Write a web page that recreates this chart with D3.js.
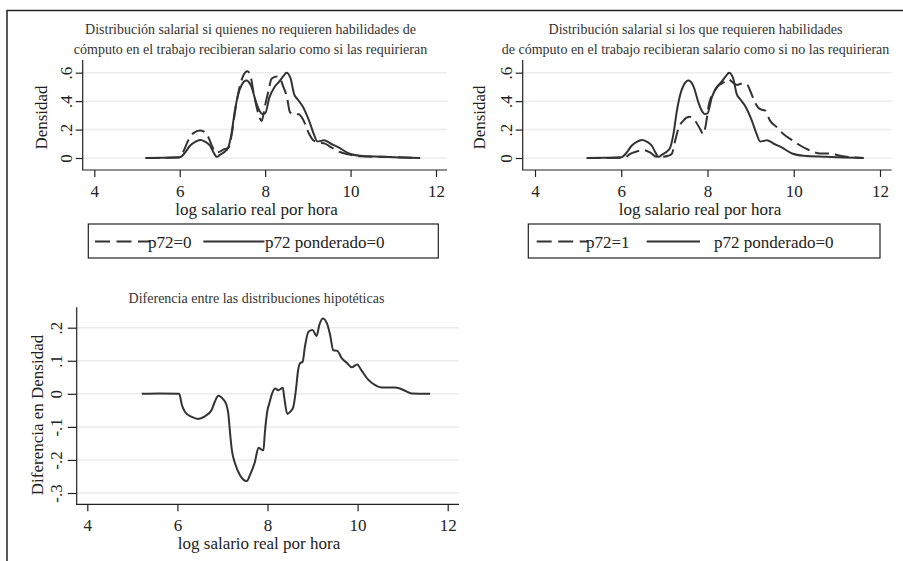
<!DOCTYPE html>
<html>
<head>
<meta charset="utf-8">
<script src="https://cdn.jsdelivr.net/npm/d3@7"></script>
<style>
  body { margin: 0; background: #fff; }
  svg { display: block; }
  text { font-family: "Liberation Serif", "Times New Roman", serif; }
</style>
</head>
<body>
<svg id="chart" width="903" height="561"></svg>
<script>
// ---- values ----
const xTicks = [4, 6, 8, 10, 12];
const densityTicks = [0, 0.2, 0.4, 0.6];
const diffTicks = [-0.3, -0.2, -0.1, 0, 0.1, 0.2];

// kernel density of log hourly real wage, p72 = 0
const p72cero = [
  [5.2,0],[5.97,0.003],[6.08,0.042],[6.2,0.124],[6.32,0.175],[6.48,0.194],[6.59,0.182],
  [6.67,0.147],[6.75,0.089],[6.83,0.042],[6.9,0.04],[7.02,0.059],[7.14,0.073],[7.22,0.171],
  [7.3,0.335],[7.41,0.51],[7.49,0.58],[7.58,0.61],[7.65,0.587],[7.72,0.475],[7.8,0.358],
  [7.88,0.276],[7.92,0.26],[7.99,0.358],[8.08,0.475],[8.15,0.557],[8.27,0.573],[8.35,0.557],
  [8.43,0.498],[8.51,0.428],[8.58,0.323],[8.66,0.307],[8.78,0.307],[8.89,0.269],[9.01,0.182],
  [9.13,0.124],[9.25,0.112],[9.4,0.101],[9.56,0.073],[9.75,0.042],[9.95,0.026],[10.22,0.012],
  [11.0,0.007],[11.63,0]
];

// kernel density, p72 = 1
const p72uno = [
  [5.2,0],[6.0,0.002],[6.09,0.004],[6.2,0.028],[6.36,0.046],[6.51,0.056],[6.67,0.039],
  [6.82,0.009],[6.94,0.009],[7.09,0.016],[7.17,0.028],[7.25,0.121],[7.32,0.203],[7.44,0.263],
  [7.59,0.29],[7.71,0.263],[7.83,0.203],[7.9,0.168],[7.97,0.25],[8.02,0.356],[8.14,0.461],
  [8.25,0.507],[8.37,0.531],[8.48,0.554],[8.56,0.538],[8.68,0.514],[8.8,0.524],[8.91,0.52],
  [8.99,0.473],[9.1,0.391],[9.22,0.343],[9.34,0.333],[9.45,0.263],[9.61,0.216],[9.76,0.168],
  [9.96,0.126],[10.15,0.088],[10.34,0.058],[10.61,0.032],[10.84,0.032],[11.08,0.016],
  [11.39,0.004],[11.62,0]
];

// reweighted density, p72 ponderado = 0
const p72ponderadoCero = [
  [5.2,0],[5.6,0.002],[6.0,0.005],[6.13,0.04],[6.24,0.086],[6.36,0.114],[6.48,0.127],
  [6.59,0.116],[6.71,0.086],[6.78,0.046],[6.87,0.008],[6.94,0.022],[7.06,0.046],[7.13,0.07],
  [7.21,0.168],[7.29,0.331],[7.37,0.448],[7.45,0.514],[7.56,0.545],[7.67,0.507],[7.79,0.39],
  [7.87,0.331],[7.93,0.31],[8.0,0.314],[8.1,0.426],[8.22,0.5],[8.33,0.537],[8.43,0.577],
  [8.5,0.6],[8.59,0.565],[8.68,0.448],[8.76,0.413],[8.87,0.367],[9.03,0.261],[9.14,0.168],
  [9.22,0.116],[9.3,0.12],[9.38,0.125],[9.53,0.102],[9.72,0.074],[9.96,0.032],[10.23,0.016],
  [10.77,0.009],[11.15,0.004],[11.62,0]
];

// difference between the two counterfactual densities
const diferencia = [
  [5.21,0],[5.6,0.001],[6.04,0],[6.1,-0.034],[6.17,-0.055],[6.32,-0.07],[6.46,-0.076],
  [6.61,-0.068],[6.76,-0.049],[6.83,-0.024],[6.91,-0.006],[6.98,-0.011],[7.09,-0.034],
  [7.13,-0.06],[7.17,-0.12],[7.21,-0.171],[7.28,-0.211],[7.39,-0.246],[7.54,-0.264],
  [7.61,-0.246],[7.72,-0.206],[7.8,-0.163],[7.87,-0.169],[7.91,-0.171],[7.94,-0.12],
  [8.0,-0.049],[8.04,-0.029],[8.09,-0.004],[8.17,0.016],[8.24,0.011],[8.34,0.018],
  [8.37,-0.009],[8.44,-0.061],[8.5,-0.055],[8.57,-0.041],[8.63,0.011],[8.68,0.072],
  [8.72,0.092],[8.78,0.097],[8.83,0.142],[8.91,0.188],[9.0,0.193],[9.09,0.175],[9.15,0.208],
  [9.23,0.228],[9.32,0.213],[9.39,0.178],[9.46,0.132],[9.55,0.13],[9.65,0.107],[9.76,0.094],
  [9.87,0.08],[9.99,0.089],[10.09,0.07],[10.24,0.042],[10.39,0.026],[10.53,0.019],
  [10.83,0.019],[10.98,0.014],[11.2,0.001],[11.61,0]
];

// ---- drawing ----
const svg = d3.select("#chart");
const INK = "#222";
const LINE = "#333";
const GRID = "#ececec";

// Stata-style number labels: ".2", "-.3", "0"
const fmtStata = v => v === 0 ? "0" : (v < 0 ? "-" : "") + String(+Math.abs(v).toFixed(1)).replace(/^0\./, ".");

// outer frame (left and top edges)
svg.append("path")
  .attr("d", "M7,561 V10.5 H903")
  .attr("fill", "none").attr("stroke", INK).attr("stroke-width", 1.5);

function panel(cfg) {
  const g = svg.append("g");
  const x = d3.scaleLinear().domain([4, 12]).range(cfg.xRange);
  const y = d3.scaleLinear().domain(cfg.yDomain).range(cfg.yRange);

  // horizontal grid
  g.append("g").selectAll("line").data(cfg.yTicks).join("line")
    .attr("x1", cfg.left).attr("x2", cfg.right)
    .attr("y1", d => y(d)).attr("y2", d => y(d))
    .attr("stroke", GRID).attr("stroke-width", 1.5);

  // axis lines
  g.append("path")
    .attr("d", `M${cfg.left},${cfg.top} V${cfg.bottom} H${cfg.right}`)
    .attr("fill", "none").attr("stroke", INK).attr("stroke-width", 1.2);

  // x axis
  const xa = g.append("g").attr("transform", `translate(0,${cfg.bottom})`)
    .call(d3.axisBottom(x).tickValues(xTicks).tickSize(7).tickPadding(7.5).tickFormat(d3.format("d")));
  xa.select(".domain").remove();
  xa.selectAll("line").attr("stroke", INK).attr("stroke-width", 1.2);
  xa.selectAll("text").attr("font-size", 17).attr("fill", INK)
    .attr("font-family", "Liberation Serif, serif");

  // y axis, labels turned vertical
  const ya = g.append("g").attr("transform", `translate(${cfg.left},0)`)
    .call(d3.axisLeft(y).tickValues(cfg.yTicks).tickSize(cfg.yTickLen).tickFormat(fmtStata));
  ya.select(".domain").remove();
  ya.selectAll("line").attr("stroke", INK).attr("stroke-width", 1.2);
  ya.selectAll("text")
    .attr("x", null).attr("dy", null).attr("y", null)
    .attr("text-anchor", "middle")
    .attr("transform", `translate(${-cfg.yLabelOff},0) rotate(-90)`)
    .attr("font-size", 17).attr("fill", INK)
    .attr("font-family", "Liberation Serif, serif");

  // axis titles
  g.append("text").attr("x", cfg.xTitleX).attr("y", cfg.bottom + 45)
    .attr("text-anchor", "middle").attr("font-size", 17).attr("fill", INK)
    .text("log salario real por hora");
  g.append("text")
    .attr("transform", `translate(${cfg.yTitleX},${cfg.yTitleY}) rotate(-90)`)
    .attr("text-anchor", "middle").attr("font-size", 17).attr("fill", INK)
    .text(cfg.yTitle);

  // panel title
  g.append("g").selectAll("text").data(cfg.title).join("text")
    .attr("x", cfg.titleX).attr("y", (d, i) => cfg.titleY + i * 20)
    .attr("text-anchor", "middle").attr("font-size", 14).attr("fill", LINE)
    .text(d => d);

  // series
  const line = d3.line().x(d => x(d[0])).y(d => y(d[1])).curve(d3.curveMonotoneX);
  cfg.series.forEach(s => {
    g.append("path").datum(s.data)
      .attr("d", line)
      .attr("fill", "none").attr("stroke", LINE).attr("stroke-width", 2)
      .attr("stroke-linejoin", "round")
      .attr("stroke-dasharray", s.dash ? "14,6" : null);
  });

  // legend
  if (cfg.legend) {
    const L = cfg.legend;
    const lg = g.append("g");
    lg.append("rect").attr("x", L.x0).attr("y", 224).attr("width", L.x1 - L.x0).attr("height", 34)
      .attr("fill", "#fff").attr("stroke", INK).attr("stroke-width", 1.2);
    L.items.forEach(it => {
      lg.append("line").attr("x1", it.k0).attr("x2", it.k1).attr("y1", 241.5).attr("y2", 241.5)
        .attr("stroke", LINE).attr("stroke-width", 1.8)
        .attr("stroke-dasharray", it.dash ? "15,6.5" : null);
      lg.append("text").attr("x", it.tx).attr("y", 247.5)
        .attr("font-size", 17).attr("fill", INK).text(it.label);
    });
  }
}

panel({
  left: 82.7, right: 447, top: 60, bottom: 170,
  xRange: [94.3, 436], yDomain: [0, 0.6], yRange: [158, 72.7],
  yTicks: densityTicks, yTickLen: 7, yLabelOff: 11,
  xTitleX: 256.5, yTitle: "Densidad", yTitleX: 47, yTitleY: 117.5,
  title: ["Distribución salarial si quienes no requieren habilidades de",
          "cómputo en el trabajo recibieran salario como si las requirieran"],
  titleX: 250.5, titleY: 34,
  series: [{ data: p72cero, dash: true }, { data: p72ponderadoCero, dash: false }],
  legend: { x0: 88.3, x1: 438.3, items: [
    { k0: 95, k1: 150, dash: true, tx: 148, label: "p72=0" },
    { k0: 203.3, k1: 264.5, dash: false, tx: 265, label: "p72 ponderado=0" }
  ]}
});

panel({
  left: 522.7, right: 891.7, top: 60, bottom: 170,
  xRange: [535, 880], yDomain: [0, 0.6], yRange: [158, 72.7],
  yTicks: densityTicks, yTickLen: 7, yLabelOff: 11,
  xTitleX: 700, yTitle: "Densidad", yTitleX: 485, yTitleY: 117.5,
  title: ["Distribución salarial si los que requieren habilidades",
          "de cómputo en el trabajo recibieran salario como si no las requirieran"],
  titleX: 695.5, titleY: 34,
  series: [{ data: p72uno, dash: true }, { data: p72ponderadoCero, dash: false }],
  legend: { x0: 528.3, x1: 880, items: [
    { k0: 536.7, k1: 588, dash: true, tx: 586, label: "p72=1" },
    { k0: 646.7, k1: 700, dash: false, tx: 714, label: "p72 ponderado=0" }
  ]}
});

panel({
  left: 76.7, right: 459, top: 307.3, bottom: 504.3,
  xRange: [87.3, 447.7], yDomain: [-0.3, 0.2], yRange: [493, 327.7],
  yTicks: diffTicks, yTickLen: 9, yLabelOff: 15,
  xTitleX: 259, yTitle: "Diferencia en Densidad", yTitleX: 43, yTitleY: 415,
  title: ["Diferencia entre las distribuciones hipotéticas"],
  titleX: 256.5, titleY: 302.5,
  series: [{ data: diferencia, dash: false }],
  legend: null
});
</script>
</body>
</html>
